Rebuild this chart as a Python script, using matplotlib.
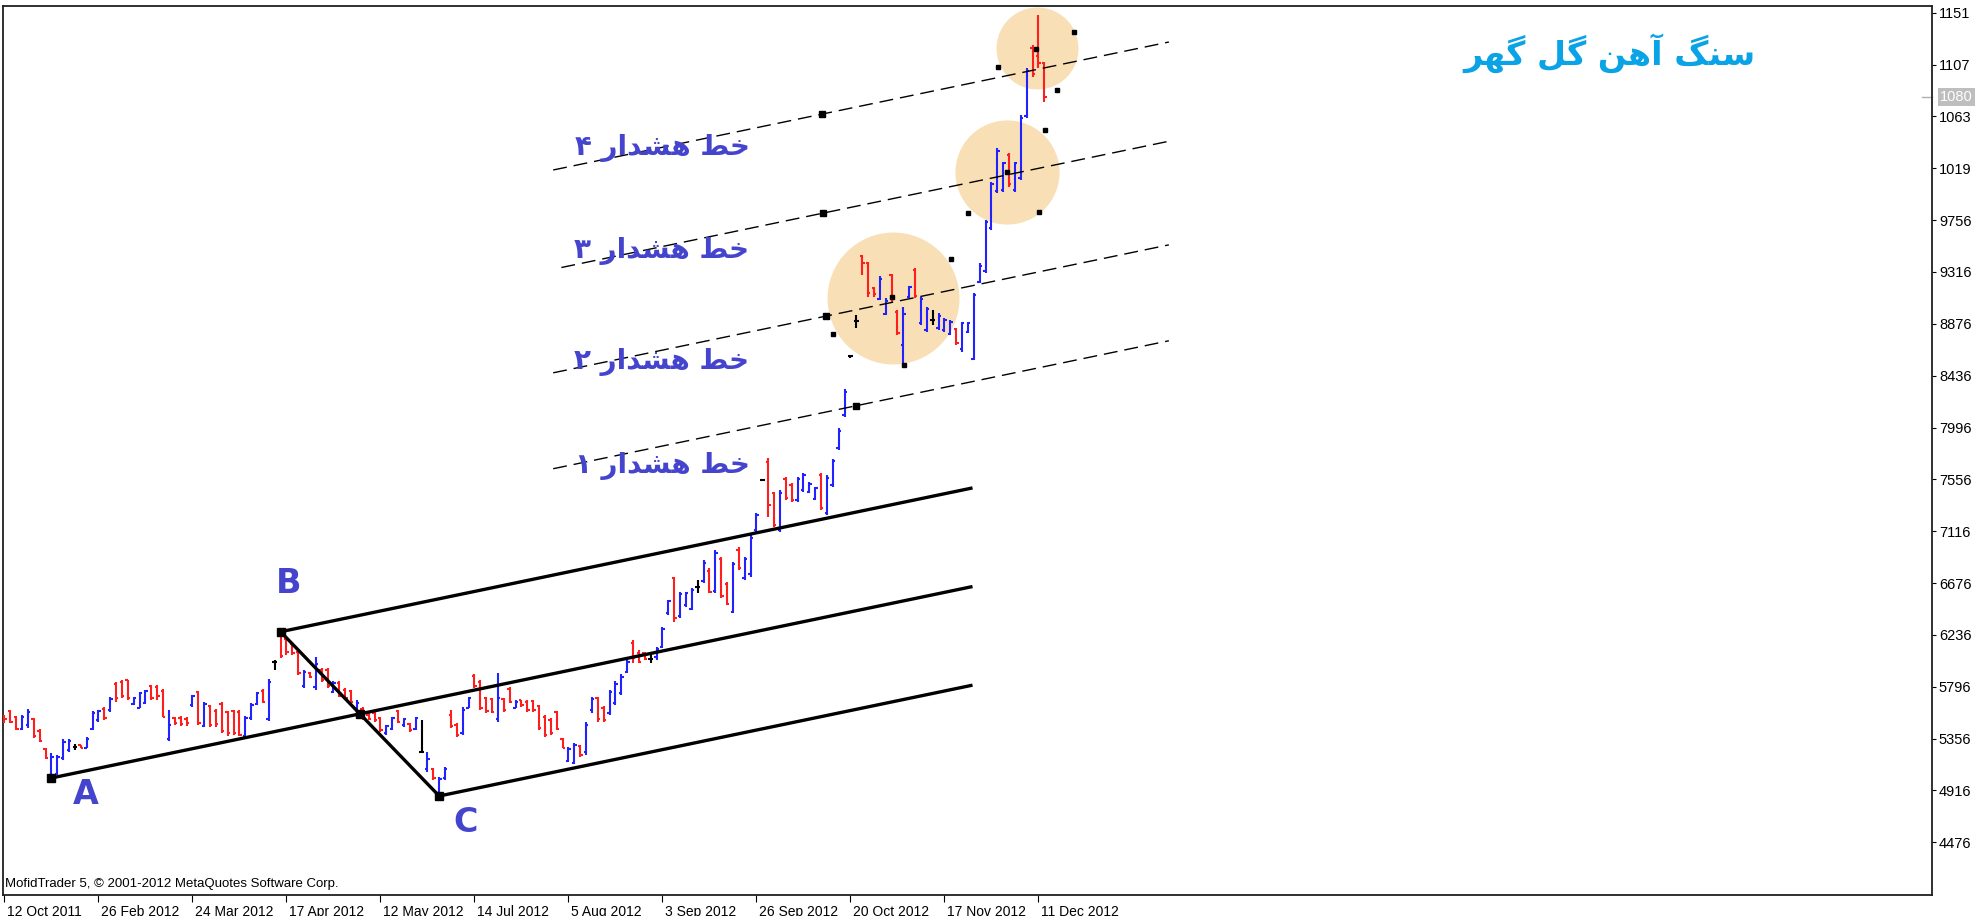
import numpy as np
import matplotlib
matplotlib.use('Agg')
import matplotlib.pyplot as plt
import matplotlib.transforms as mtransforms

# ---- bars (one per trading day) ----
opens = [5550, 5590, 5540, 5440, 5470, 5520, 5420, 5265, 5050, 5060,
         5190, 5260, 5285, 5298, 5280, 5440, 5510, 5610, 5600, 5820,
         5840, 5850, 5650, 5620, 5660, 5800, 5790, 5760, 5350, 5530,
         5530, 5520, 5640, 5750, 5460, 5630, 5590, 5650, 5580, 5590,
         5580, 5380, 5530, 5650, 5760, 5520, 6010, 6240, 6200, 6160,
         6090, 5800, 5915, 5790, 5940, 5940, 5750, 5830, 5770, 5760,
         5560, 5610, 5560, 5575, 5530, 5400, 5440, 5590, 5470, 5480,
         5440, 5245, 5100, 5095, 4890, 5020, 5560, 5470, 5400, 5620,
         5890, 5840, 5700, 5690, 5520, 5690, 5780, 5620, 5680, 5670,
         5675, 5630, 5540, 5510, 5580, 5350, 5170, 5150, 5290, 5240,
         5600, 5700, 5620, 5570, 5660, 5740, 5920, 6170, 6080, 6080,
         6030, 6050, 6130, 6420, 6720, 6400, 6490, 6460, 6640, 6690,
         6780, 6610, 6880, 6670, 6430, 6960, 6720, 6750, 7130, 7550,
         7700, 7440, 7130, 7560, 7510, 7380, 7470, 7450, 7390, 7590,
         7270, 7510, 7820, 8100, 8600, 8900, 9450, 9390, 9180, 9090,
         8960, 9290, 8980, 8700, 9100, 9330, 8880, 8820, 8910, 8840,
         8820, 8790, 8830, 8660, 8810, 8580, 9230, 9320, 9690, 10000,
         10010, 10310, 10010, 10110, 10640, 11220, 11150, 11090]
highs = [5560, 5600, 5550, 5555, 5605, 5530, 5435, 5275, 5230, 5215,
         5350, 5350, 5310, 5302, 5367, 5590, 5600, 5627, 5706, 5840,
         5855, 5855, 5706, 5755, 5770, 5811, 5811, 5774, 5600, 5542,
         5548, 5537, 5726, 5763, 5670, 5641, 5605, 5670, 5593, 5599,
         5599, 5548, 5656, 5755, 5774, 5859, 6020, 6263, 6221, 6178,
         6108, 5938, 5924, 6051, 5952, 5952, 5845, 5845, 5783, 5768,
         5684, 5627, 5570, 5585, 5542, 5471, 5542, 5599, 5528, 5486,
         5542, 5514, 5245, 5104, 5033, 5118, 5600, 5486, 5621, 5712,
         5904, 5853, 5712, 5698, 5910, 5698, 5797, 5684, 5684, 5684,
         5684, 5641, 5556, 5528, 5593, 5358, 5288, 5322, 5302, 5495,
         5705, 5712, 5635, 5768, 5845, 5905, 6023, 6193, 6110, 6094,
         6080, 6136, 6306, 6532, 6730, 6603, 6603, 6631, 6702, 6871,
         6801, 6956, 6900, 6688, 6857, 6985, 6900, 7084, 7268, 7555,
         7734, 7451, 7465, 7579, 7522, 7579, 7607, 7536, 7494, 7607,
         7593, 7726, 7989, 8320, 8610, 8951, 9460, 9403, 9191, 9282,
         9092, 9299, 8993, 9021, 9197, 9347, 9106, 9021, 8993, 8965,
         8922, 8908, 8838, 8894, 8894, 9140, 9389, 9757, 10082, 10365,
         10252, 10323, 10252, 10648, 11044, 11242, 11496, 11101]
lows = [5490, 5490, 5425, 5430, 5450, 5360, 5330, 5180, 5022, 5045,
        5175, 5245, 5260, 5274, 5274, 5430, 5500, 5514, 5585, 5670,
        5698, 5684, 5641, 5613, 5650, 5684, 5684, 5537, 5340, 5472,
        5463, 5463, 5627, 5472, 5452, 5452, 5452, 5401, 5378, 5387,
        5378, 5373, 5514, 5641, 5656, 5508, 5935, 6037, 6065, 6065,
        5896, 5782, 5867, 5768, 5839, 5782, 5740, 5710, 5684, 5655,
        5542, 5514, 5514, 5500, 5415, 5387, 5429, 5486, 5457, 5415,
        5429, 5237, 5075, 5005, 4869, 5005, 5443, 5373, 5387, 5613,
        5783, 5599, 5570, 5570, 5500, 5585, 5655, 5613, 5627, 5585,
        5585, 5429, 5373, 5387, 5429, 5273, 5160, 5140, 5203, 5220,
        5575, 5500, 5500, 5560, 5641, 5726, 5910, 5995, 5995, 6023,
        5995, 6023, 6122, 6405, 6348, 6377, 6475, 6447, 6589, 6674,
        6589, 6589, 6546, 6490, 6419, 6787, 6702, 6730, 7112, 7545,
        7239, 7154, 7112, 7381, 7367, 7367, 7451, 7437, 7381, 7296,
        7253, 7494, 7805, 8088, 8590, 8838, 9290, 9106, 9106, 9078,
        8951, 9064, 8781, 8526, 9092, 9092, 8866, 8809, 8866, 8823,
        8809, 8781, 8696, 8640, 8795, 8569, 9219, 9304, 9672, 9983,
        9997, 10040, 9997, 10096, 10620, 10973, 11044, 10761]
closes = [5520, 5500, 5440, 5540, 5580, 5380, 5340, 5190, 5200, 5200,
          5330, 5340, 5285, 5280, 5355, 5570, 5590, 5530, 5690, 5700,
          5720, 5700, 5700, 5740, 5760, 5700, 5720, 5540, 5470, 5490,
          5480, 5490, 5720, 5490, 5650, 5470, 5480, 5420, 5400, 5400,
          5390, 5530, 5640, 5740, 5670, 5840, 6010, 6060, 6090, 6080,
          5910, 5920, 5880, 5990, 5850, 5800, 5830, 5720, 5700, 5670,
          5660, 5530, 5520, 5510, 5430, 5460, 5530, 5500, 5520, 5430,
          5530, 5245, 5180, 5020, 5010, 5100, 5460, 5390, 5600, 5700,
          5800, 5620, 5590, 5580, 5700, 5600, 5670, 5670, 5640, 5600,
          5600, 5450, 5390, 5400, 5440, 5280, 5270, 5300, 5220, 5470,
          5690, 5520, 5510, 5750, 5820, 5880, 6010, 6040, 6010, 6030,
          6030, 6120, 6290, 6520, 6380, 6580, 6590, 6620, 6640, 6850,
          6600, 6930, 6570, 6500, 6840, 6800, 6880, 7060, 7250, 7550,
          7340, 7170, 7440, 7400, 7380, 7560, 7590, 7520, 7480, 7310,
          7570, 7710, 7970, 8300, 8600, 8900, 9390, 9140, 9130, 9260,
          9070, 9090, 8800, 8960, 9190, 9110, 9090, 9000, 8910, 8940,
          8910, 8890, 8710, 8880, 8880, 9120, 9370, 9740, 10060, 10340,
          10240, 10060, 10240, 10620, 11020, 11000, 11090, 10800]
last_price = 10800

date_bars = [0, 16, 32, 48, 64, 80, 96, 112, 128, 144, 160, 176]
date_labels = ['12 Oct 2011', '26 Feb 2012', '24 Mar 2012', '17 Apr 2012',
               '12 May 2012', '14 Jul 2012', '5 Aug 2012', '3 Sep 2012',
               '26 Sep 2012', '20 Oct 2012', '17 Nov 2012', '11 Dec 2012']
price_ticks = [11516, 11076, 10636, 10196, 9756, 9316, 8876, 8436, 7996,
               7556, 7116, 6676, 6236, 5796, 5356, 4916, 4476]

# Andrews pitchfork anchors (bar, price)
pt_a = (8, 5022)
pt_b = (47, 6263)
pt_c = (74, 4869)
fork_end = 164.5

# warning lines: anchor marker (bar, price), first bar
warn_marks = [(145.0, 8181), (139.9, 8942), (139.4, 9816), (139.2, 10656)]
warn_start = [93.4, 93.4, 94.8, 93.4]
warn_end = 198.2
warn_names = ['خط هشدار ۱', 'خط هشدار ۲', 'خط هشدار ۳', 'خط هشدار ۴']
warn_text_pos = [(112.0, 7670), (111.8, 8555), (111.8, 9495), (112.0, 10370)]

# highlighted zones
zone_x = [151.2, 170.6, 175.7]
zone_y = [9098, 10168, 11214]
zone_mark_x = [141.1, 151.0, 153.1, 161.1, 163.95, 170.6, 176.1, 177.1,
               169.1, 175.6, 182.1, 179.1]
zone_mark_y = [8789, 9106, 8526, 9428, 9814, 10167, 9825, 10523,
               11055, 11205, 11355, 10863]

title = 'سنگ آهن گل گهر'

# ---- simple Persian shaping (matplotlib does no RTL / joining) ----
RIGHT_ONLY = set('اآدذرزژو')
FORMS = {
    'ا': ('\uFE8D', '\uFE8E'), 'آ': ('\uFE81', '\uFE82'),
    'د': ('\uFEA9', '\uFEAA'), 'ر': ('\uFEAD', '\uFEAE'),
    'خ': ('\uFEA5', '\uFEA6', '\uFEA7', '\uFEA8'),
    'ط': ('\uFEC1', '\uFEC2', '\uFEC3', '\uFEC4'),
    'ه': ('\uFEE9', '\uFEEA', '\uFEEB', '\uFEEC'),
    'ش': ('\uFEB5', '\uFEB6', '\uFEB7', '\uFEB8'),
    'س': ('\uFEB1', '\uFEB2', '\uFEB3', '\uFEB4'),
    'ن': ('\uFEE5', '\uFEE6', '\uFEE7', '\uFEE8'),
    'ل': ('\uFEDD', '\uFEDE', '\uFEDF', '\uFEE0'),
    'گ': ('\uFB92', '\uFB93', '\uFB94', '\uFB95'),
}


def shape(text):
    out = []
    for i, ch in enumerate(text):
        if ch not in FORMS:
            out.append(ch)
            continue
        prev = text[i - 1] if i > 0 else ''
        nxt = text[i + 1] if i + 1 < len(text) else ''
        jp = prev in FORMS and prev not in RIGHT_ONLY
        jn = nxt in FORMS and ch not in RIGHT_ONLY
        f = FORMS[ch]
        if jp and jn:
            out.append(f[3])
        elif jp:
            out.append(f[1])
        elif jn:
            out.append(f[2])
        else:
            out.append(f[0])
    return ''.join(reversed(out))


RED = '#FF1E1E'
BLUE = '#2222FF'
LABEL_BLUE = '#4444CC'

fig = plt.figure(figsize=(19.86, 9.16), dpi=100)
ax = fig.add_axes([3 / 1986, 1 - 895 / 916, 1929 / 1986, 889 / 916])
ax.set_xlim(-0.25, 328.1)
ax.set_ylim(4029, 11573)

# bars
x = np.arange(len(opens))
o = np.array(opens)
c = np.array(closes)
cols = np.where(c > o, BLUE, np.where(c < o, RED, 'black'))
ax.vlines(x, lows, highs, colors=cols, lw=1.5, zorder=3)
ax.hlines(o, x - 0.4, x, colors=cols, lw=1.5, zorder=3)
ax.hlines(c, x, x + 0.4, colors=cols, lw=1.5, zorder=3)

# zones
for zx, zy, ms in zip(zone_x, zone_y, [95, 75, 59]):
    ax.plot(zx, zy, 'o', ms=ms, color='#F8DFB6', mec='none', zorder=1)
ax.plot(zone_mark_x, zone_mark_y, 's', ms=3.3, color='black', zorder=5)

# pitchfork
ma = ((pt_b[0] + pt_c[0]) / 2, (pt_b[1] + pt_c[1]) / 2)
slope = (ma[1] - pt_a[1]) / (ma[0] - pt_a[0])
for px, py in [pt_a, pt_b, pt_c]:
    ax.plot([px, fork_end], [py, py + slope * (fork_end - px)],
            color='black', lw=2.4, zorder=4)
ax.plot([pt_b[0], pt_c[0]], [pt_b[1], pt_c[1]], color='black', lw=2.4, zorder=4)
ax.plot([pt_a[0], pt_b[0], ma[0], pt_c[0]], [pt_a[1], pt_b[1], ma[1], pt_c[1]],
        's', ms=6, color='black', zorder=5)

# warning lines
for (mx, my), xs in zip(warn_marks, warn_start):
    ax.plot([xs, warn_end], [my + slope * (xs - mx), my + slope * (warn_end - mx)],
            color='black', lw=1.0, dashes=(10, 5), zorder=4)
    ax.plot(mx, my, 's', ms=5, color='black', zorder=5)
for name, (tx, ty) in zip(warn_names, warn_text_pos):
    ax.text(tx, ty, shape(name), fontsize=20, fontweight='bold', color=LABEL_BLUE,
            ha='center', va='center', family=['DejaVu Sans'], zorder=6)

for lab, p, off in [('A', pt_a, (25, -12)), ('B', pt_b, (6, 35)), ('C', pt_c, (19, -19))]:
    ax.annotate(lab, p, xytext=off, textcoords='offset points', fontsize=24,
                fontweight='bold', color=LABEL_BLUE, ha='center', va='center')

# axes styling
for s in ax.spines.values():
    s.set_linewidth(1.3)
    s.set_color('#202020')
ax.yaxis.tick_right()
ax.set_yticks(price_ticks)
ax.set_yticklabels([str(v)[:4] for v in price_ticks])
ax.tick_params(axis='y', direction='out', length=3, width=0.8, pad=2, labelsize=10.5)
ax.set_xticks(date_bars)
ax.set_xticklabels(date_labels)
ax.tick_params(axis='x', direction='out', length=5, width=0.8, pad=2, labelsize=10)
shift = mtransforms.ScaledTranslation(3 / 100, 0, fig.dpi_scale_trans)
for lab in ax.get_xticklabels():
    lab.set_ha('left')
    lab.set_transform(lab.get_transform() + shift)
    lab.set_family('Liberation Sans')
for lab in ax.get_yticklabels():
    lab.set_family('Liberation Sans')

ax.text(0.001, 0.012, 'MofidTrader 5, © 2001-2012 MetaQuotes Software Corp.',
        transform=ax.transAxes, fontsize=9.5, family='Liberation Sans', va='center')

# last price tag
ax.plot([1.0, 1.0 - 10 / 1929], [last_price, last_price], color='#B0B0B0', lw=1,
        transform=ax.get_yaxis_transform(), clip_on=False)
ax.annotate(str(last_price)[:4], (1.0, last_price), xycoords=ax.get_yaxis_transform(),
            xytext=(6, 0), textcoords='offset points', va='center', ha='left',
            fontsize=10.5, family='Liberation Sans', color='white',
            bbox=dict(boxstyle='square,pad=0.15', fc='#BEBEBE', ec='none'))

fig.text(1609 / 1986, 1 - 53 / 916, shape(title), fontsize=24, fontweight='bold',
         color='#0AA3E6', ha='center', va='center', family=['DejaVu Sans'])

fig.savefig('out.png', dpi=100)
